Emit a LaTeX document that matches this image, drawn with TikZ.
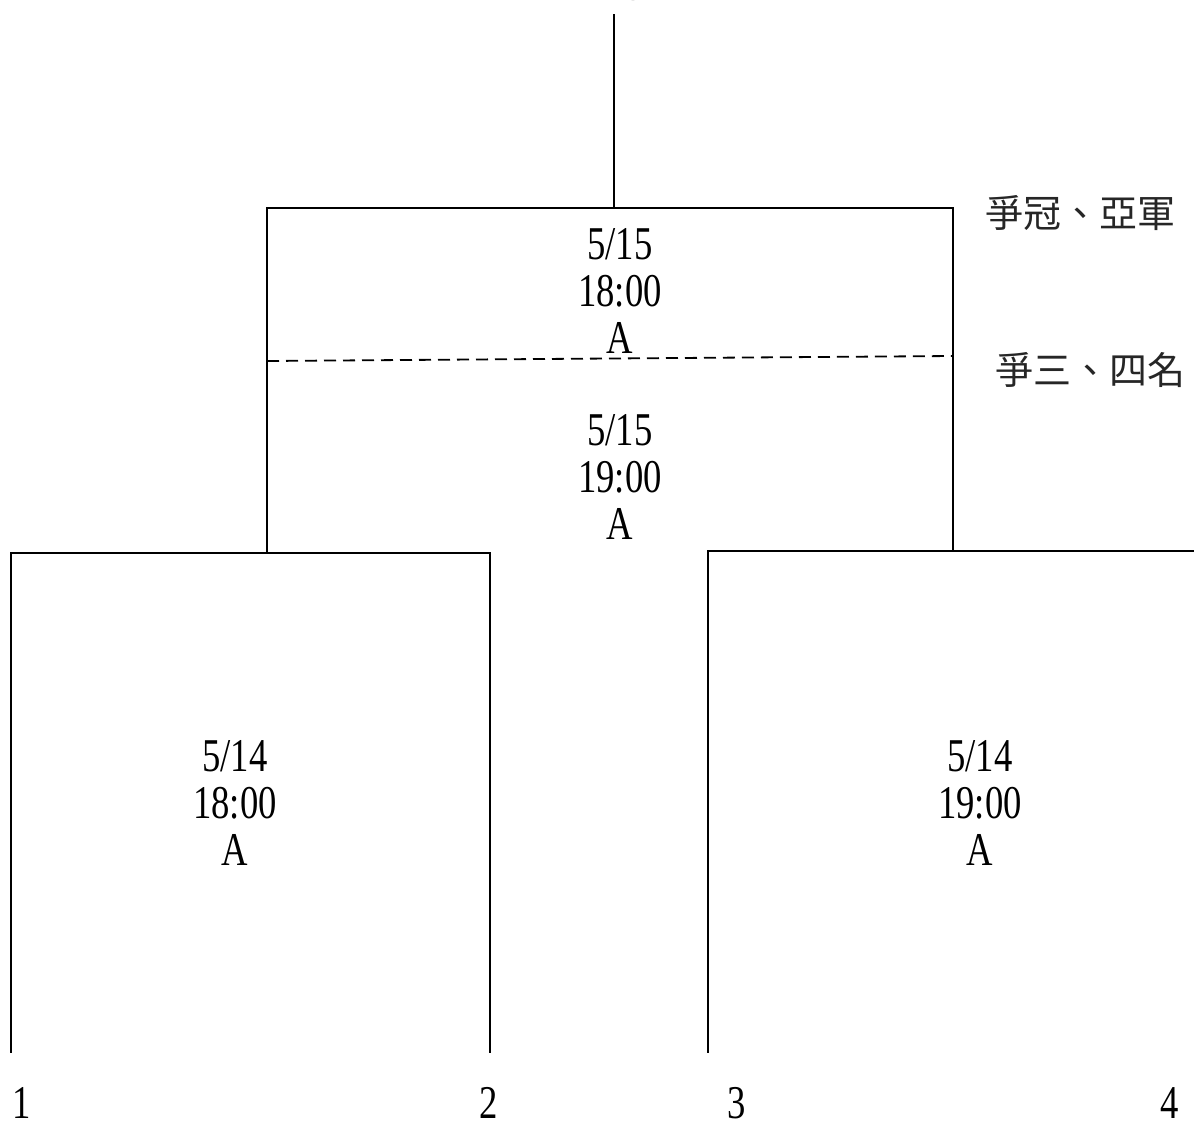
\documentclass[tikz,border=0pt]{standalone}
\usepackage{fontspec}
\setmainfont[FakeStretch=0.78]{Liberation Serif}
\newfontfamily\cjkfont{Noto Sans CJK TC}
\tikzset{
  bracketline/.style={line width=1.1pt, line cap=rect},
  datelabel/.style={align=center, inner sep=0pt, font=\fontsize{23.5}{23.5}\selectfont},
  seedlabel/.style={inner sep=0pt, font=\fontsize{23.5}{23.5}\selectfont},
  placelabel/.style={inner sep=0pt, font=\cjkfont\fontsize{19}{19}\selectfont, color=black!85},
}
\begin{document}
\begin{tikzpicture}[x=0.5pt,y=0.5pt,yscale=-1,xscale=1]
\useasboundingbox (0,0) rectangle (1194,1124);
\clip (0,0) rectangle (1194,1124);

%Corners of the brackets
\coordinate (topA) at (614,15);
\coordinate (topB) at (614,208);
\coordinate (finL) at (267,208);
\coordinate (finR) at (953,208);
\coordinate (finLb) at (267,553);
\coordinate (finRb) at (953,551);
\coordinate (dashL) at (267,361);
\coordinate (dashR) at (953,356);
\coordinate (semL) at (11,553);
\coordinate (semM) at (490,553);
\coordinate (semLb) at (11,1052);
\coordinate (semMb) at (490,1052);
\coordinate (semR) at (708,551);
\coordinate (semE) at (1200,551);
\coordinate (semRb) at (708,1052);

%Straight Lines: final
\draw [bracketline] (topA) -- (topB);
\draw [bracketline] (finLb) -- (finL) -- (finR) -- (finRb);
\draw [line width=0.9pt, dash pattern=on 6pt off 3.5pt] (dashL) -- (dashR);

%Straight Lines: semi-finals
\draw [bracketline] (semLb) -- (semL) -- (semM) -- (semMb);
\draw [bracketline] (semRb) -- (semR) -- (semE);

% Text Node
\node [placelabel] (champ) at (614,-15.5) {冠軍};
% Text Node
\node [placelabel] (first) at (1080,213) {爭冠、亞軍};
% Text Node
\node [placelabel] (third) at (1090,370) {爭三、四名};
% Text Node
\node [datelabel] (gameF) at (620,291) {5/15\\18:00\\A};
% Text Node
\node [datelabel] (gameT) at (620,477) {5/15\\19:00\\A};
% Text Node
\node [datelabel] (gameL) at (235,803) {5/14\\18:00\\A};
% Text Node
\node [datelabel] (gameR) at (980,803) {5/14\\19:00\\A};
% Text Node
\node [seedlabel] (seedA) at (22,1103) {1};
% Text Node
\node [seedlabel] (seedB) at (489,1103) {2};
% Text Node
\node [seedlabel] (seedC) at (737,1103) {3};
% Text Node
\node [seedlabel] (seedD) at (1170,1103) {4};

\end{tikzpicture}
\end{document}
